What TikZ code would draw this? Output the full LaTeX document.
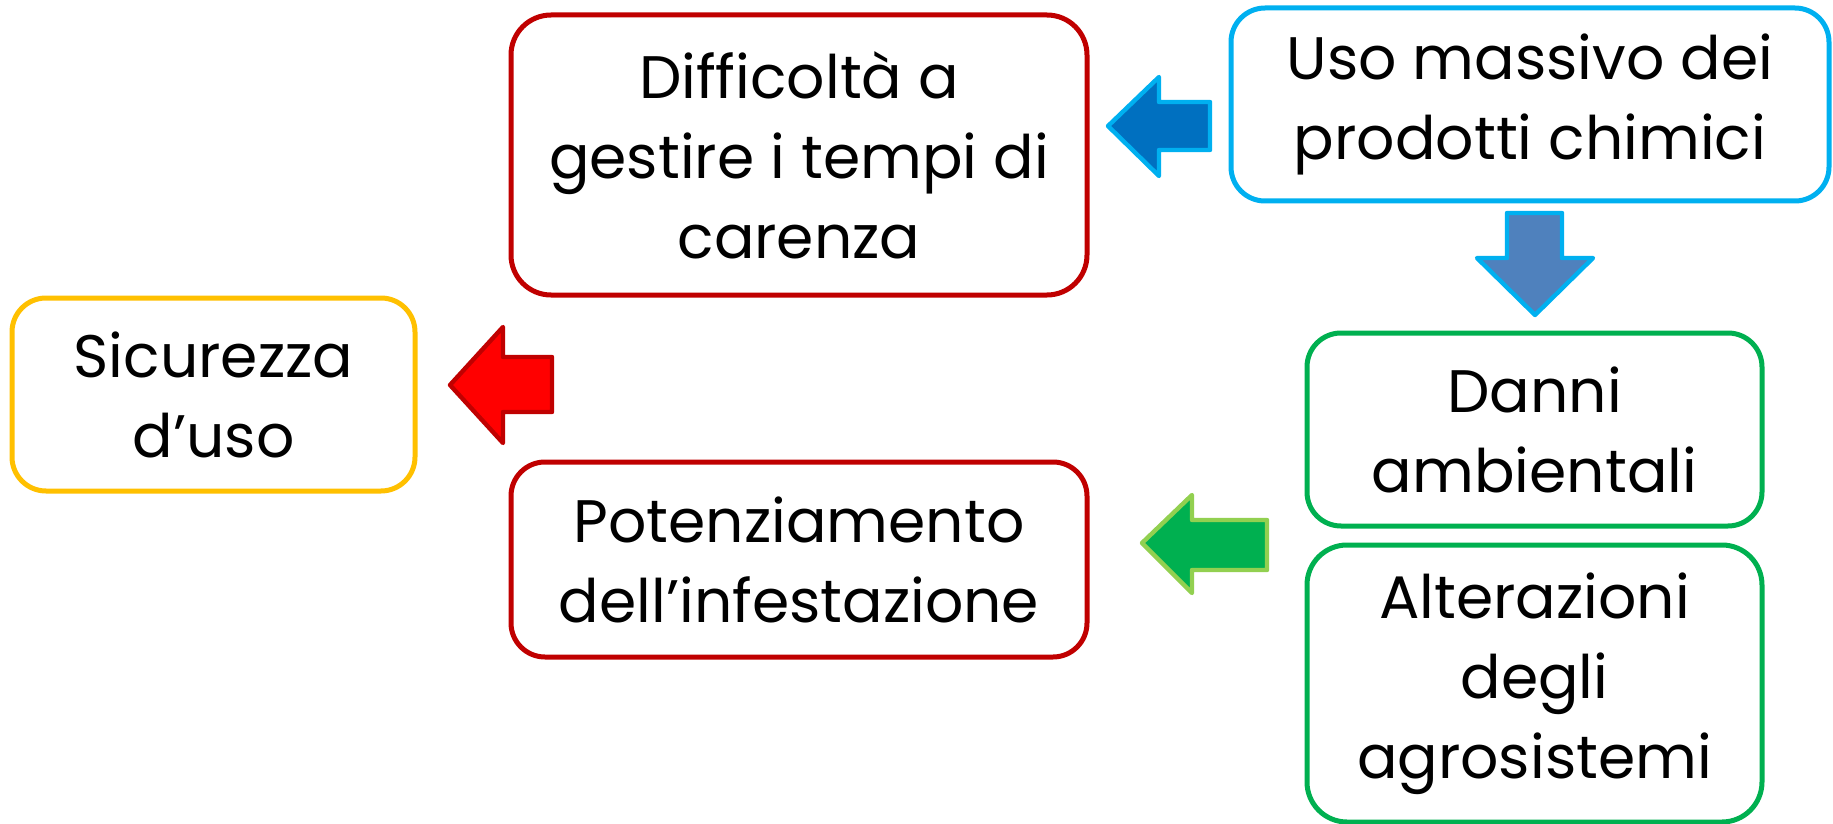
\documentclass[tikz,border=0pt]{standalone}
\usepackage{fontspec}
\setmainfont{Poppins}
\usepackage{tikz}

\definecolor{boxred}{HTML}{C00000}
\definecolor{boxblue}{HTML}{00B0F0}
\definecolor{boxyellow}{HTML}{FFC000}
\definecolor{boxgreen}{HTML}{00B050}
\definecolor{arrblue}{HTML}{0070C0}
\definecolor{arrsteel}{HTML}{4F81BD}
\definecolor{arrred}{HTML}{FF0000}
\definecolor{arrgreen}{HTML}{92D050}

\begin{document}
\begin{tikzpicture}[x=0.5pt,y=-0.5pt]%
\tikzstyle{textbox} = [draw, fill=white, line width=2.5pt, rectangle,
    rounded corners=20pt, align=center, inner sep=0pt,
    font=\fontsize{30}{40}\selectfont]
\tikzstyle{bigarrow} = [line width=2.2pt, line join=round]

\useasboundingbox (0,0) rectangle (1833,824);

% caselle
\node [textbox, draw=boxred, minimum width=288pt, minimum height=140pt]
    (difficolta) at (799,155) {Difficoltà a\\gestire i tempi di\\carenza};
\node [textbox, draw=boxblue, minimum width=299pt, minimum height=96.5pt,
    rounded corners=17pt] (uso) at (1530,104.5) {Uso massivo dei\\prodotti chimici};
\node [textbox, draw=boxyellow, minimum width=201.5pt, minimum height=96.5pt,
    rounded corners=17pt] (sicurezza) at (213.5,394.5) {Sicurezza\\d’uso};
\node [textbox, draw=boxgreen, minimum width=227.5pt, minimum height=96.5pt,
    rounded corners=17pt] (danni) at (1534.5,429.5) {Danni\\ambientali};
\node [textbox, draw=boxgreen, minimum width=227.5pt, minimum height=138.5pt]
    (alterazioni) at (1534.5,683.5) {Alterazioni\\degli\\agrosistemi};
\node [textbox, draw=boxred, minimum width=288pt, minimum height=97.5pt,
    rounded corners=17pt] (potenziamento) at (799,559.5) {Potenziamento\\dell’infestazione};

% frecce
\draw [bigarrow, draw=boxblue, fill=arrblue]
    (1108,126) -- (1159,77) -- (1159,102) -- (1210,102) -- (1210,150)
    -- (1159,150) -- (1159,176) -- cycle;
\draw [bigarrow, draw=boxblue, fill=arrsteel]
    (1507,213) -- (1562,213) -- (1562,258) -- (1593,258) -- (1535,315)
    -- (1477,258) -- (1507,258) -- cycle;
\draw [bigarrow, draw=boxred, fill=arrred]
    (450,385) -- (503,327) -- (503,357) -- (552,357) -- (552,412)
    -- (503,412) -- (503,443) -- cycle;
\draw [bigarrow, draw=arrgreen, fill=boxgreen]
    (1142,543) -- (1192,495) -- (1192,520) -- (1267,520) -- (1267,570)
    -- (1192,570) -- (1192,593) -- cycle;
\end{tikzpicture}
\end{document}
